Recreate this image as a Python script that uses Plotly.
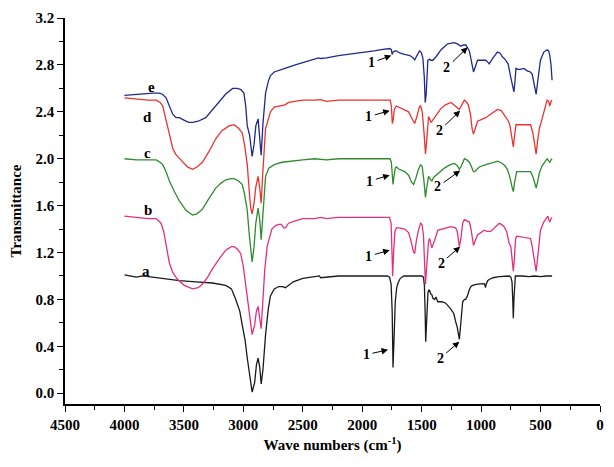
import plotly.graph_objects as go

# ---- data: (wavenumber cm^-1, transmittance) ----
spec_a = [(4000,1.01),(3900,0.99),(3845,1.0),(3700,0.98),(3622,0.97),(3538,0.96),(3400,0.95),(3260,0.94),(3148,0.92),(3100,0.89),(3064,0.80),(3030,0.70),(3009,0.58),(2985,0.45),(2967,0.30),(2945,0.14),(2926,0.01),(2905,0.09),(2890,0.24),(2876,0.30),(2862,0.22),(2850,0.08),(2835,0.20),(2813,0.50),(2790,0.72),(2772,0.83),(2740,0.89),(2702,0.91),(2670,0.91),(2646,0.90),(2620,0.92),(2580,0.95),(2500,0.98),(2400,0.99),(2360,1.0),(2350,0.985),(2300,0.99),(2200,1.0),(2000,1.0),(1850,1.0),(1790,1.0),(1770,0.99),(1757,0.93),(1748,0.70),(1741,0.22),(1733,0.45),(1722,0.78),(1710,0.90),(1699,0.94),(1680,0.98),(1650,1.0),(1550,1.0),(1500,1.0),(1485,0.99),(1477,0.92),(1471,0.70),(1466,0.44),(1461,0.55),(1455,0.75),(1447,0.86),(1440,0.88),(1434,0.88),(1425,0.85),(1414,0.84),(1405,0.81),(1392,0.80),(1380,0.82),(1365,0.78),(1330,0.78),(1300,0.77),(1256,0.72),(1230,0.68),(1214,0.61),(1200,0.56),(1190,0.50),(1183,0.46),(1175,0.55),(1165,0.70),(1155,0.78),(1140,0.80),(1130,0.80),(1115,0.83),(1099,0.885),(1085,0.91),(1072,0.92),(1030,0.93),(990,0.935),(974,0.935),(967,0.92),(963,0.90),(957,0.93),(945,0.96),(932,0.97),(900,0.985),(848,0.995),(800,1.0),(765,1.0),(750,0.99),(740,0.95),(734,0.80),(729,0.64),(724,0.80),(718,0.97),(712,1.0),(650,1.0),(600,0.995),(550,1.0),(500,0.995),(450,1.0),(403,1.0)]

spec_b = [(4000,1.51),(3900,1.50),(3800,1.49),(3733,1.49),(3692,1.45),(3670,1.38),(3650,1.28),(3622,1.11),(3594,1.03),(3570,0.99),(3553,0.97),(3497,0.92),(3427,0.89),(3380,0.90),(3344,0.93),(3300,0.99),(3260,1.06),(3200,1.15),(3148,1.22),(3100,1.25),(3078,1.25),(3050,1.23),(3022,1.19),(3000,1.08),(2981,0.92),(2960,0.75),(2940,0.58),(2926,0.50),(2905,0.58),(2890,0.70),(2876,0.74),(2862,0.65),(2850,0.55),(2838,0.75),(2820,1.05),(2800,1.25),(2786,1.30),(2760,1.40),(2730,1.43),(2702,1.44),(2680,1.44),(2660,1.41),(2646,1.41),(2620,1.45),(2564,1.47),(2500,1.49),(2400,1.49),(2350,1.50),(2300,1.49),(2200,1.50),(2000,1.50),(1850,1.50),(1770,1.50),(1757,1.45),(1750,1.25),(1744,1.00),(1736,1.20),(1725,1.38),(1713,1.41),(1690,1.41),(1643,1.40),(1610,1.37),(1590,1.30),(1570,1.21),(1559,1.19),(1545,1.30),(1525,1.40),(1509,1.45),(1498,1.44),(1485,1.35),(1475,1.10),(1468,0.93),(1460,1.05),(1450,1.22),(1442,1.30),(1434,1.32),(1414,1.24),(1400,1.28),(1392,1.30),(1365,1.39),(1300,1.41),(1256,1.42),(1214,1.41),(1200,1.38),(1190,1.30),(1183,1.25),(1170,1.32),(1155,1.45),(1141,1.48),(1120,1.47),(1099,1.46),(1085,1.40),(1070,1.28),(1064,1.26),(1050,1.30),(1030,1.35),(974,1.39),(950,1.38),(919,1.38),(880,1.42),(848,1.45),(830,1.44),(807,1.42),(785,1.38),(765,1.28),(750,1.25),(740,1.15),(729,1.04),(720,1.15),(710,1.32),(700,1.34),(650,1.33),(584,1.32),(570,1.25),(555,1.15),(537,1.04),(525,1.15),(510,1.30),(501,1.39),(473,1.46),(450,1.49),(439,1.51),(430,1.48),(422,1.46),(412,1.49),(403,1.50)]

spec_c = [(4000,2.00),(3900,1.99),(3800,1.99),(3733,1.99),(3700,1.97),(3678,1.95),(3650,1.89),(3622,1.81),(3580,1.72),(3538,1.64),(3483,1.56),(3427,1.52),(3390,1.53),(3344,1.57),(3290,1.66),(3232,1.75),(3190,1.79),(3148,1.82),(3100,1.83),(3078,1.83),(3040,1.81),(3009,1.78),(2990,1.70),(2967,1.56),(2950,1.35),(2938,1.20),(2926,1.12),(2910,1.25),(2895,1.45),(2876,1.58),(2862,1.48),(2850,1.31),(2838,1.50),(2825,1.75),(2813,1.85),(2786,1.92),(2740,1.95),(2675,1.97),(2600,1.98),(2500,1.99),(2400,2.00),(2350,1.995),(2300,1.99),(2200,2.00),(2000,2.00),(1850,2.00),(1765,2.00),(1755,1.97),(1748,1.85),(1741,1.78),(1733,1.85),(1722,1.92),(1713,1.93),(1690,1.91),(1643,1.89),(1610,1.86),(1585,1.80),(1568,1.78),(1550,1.83),(1530,1.90),(1509,1.95),(1495,1.93),(1480,1.80),(1468,1.67),(1458,1.75),(1448,1.84),(1442,1.85),(1425,1.82),(1414,1.81),(1400,1.84),(1379,1.86),(1340,1.89),(1309,1.92),(1260,1.95),(1225,1.96),(1200,1.94),(1183,1.91),(1165,1.94),(1141,2.00),(1120,1.99),(1099,1.97),(1080,1.93),(1065,1.89),(1053,1.89),(1030,1.92),(1016,1.93),(960,1.95),(905,1.97),(860,1.98),(821,1.96),(800,1.94),(779,1.91),(760,1.85),(740,1.76),(729,1.72),(718,1.80),(701,1.89),(650,1.89),(584,1.89),(562,1.84),(545,1.77),(537,1.75),(525,1.80),(510,1.88),(487,1.94),(460,1.98),(445,2.00),(430,1.98),(422,1.97),(412,1.99),(403,2.00)]

spec_d = [(4000,2.52),(3900,2.51),(3800,2.50),(3733,2.50),(3700,2.48),(3678,2.45),(3660,2.38),(3636,2.28),(3615,2.18),(3594,2.09),(3570,2.04),(3553,2.02),(3511,1.97),(3470,1.93),(3427,1.91),(3390,1.93),(3344,1.97),(3290,2.06),(3232,2.17),(3180,2.24),(3120,2.28),(3078,2.29),(3040,2.26),(3009,2.22),(2990,2.12),(2967,1.95),(2950,1.72),(2938,1.58),(2926,1.53),(2910,1.62),(2895,1.76),(2876,1.85),(2862,1.75),(2850,1.62),(2838,1.85),(2825,2.10),(2813,2.26),(2800,2.30),(2772,2.40),(2740,2.44),(2702,2.45),(2650,2.46),(2619,2.48),(2563,2.49),(2500,2.50),(2400,2.50),(2350,2.505),(2300,2.49),(2200,2.50),(2000,2.50),(1850,2.50),(1765,2.50),(1755,2.45),(1747,2.30),(1740,2.33),(1730,2.42),(1713,2.45),(1690,2.44),(1643,2.42),(1610,2.40),(1585,2.35),(1559,2.30),(1540,2.36),(1520,2.44),(1509,2.45),(1495,2.40),(1480,2.22),(1468,2.04),(1458,2.15),(1448,2.32),(1442,2.36),(1421,2.31),(1405,2.33),(1392,2.35),(1337,2.43),(1300,2.46),(1253,2.48),(1212,2.45),(1195,2.43),(1183,2.42),(1160,2.46),(1141,2.50),(1120,2.48),(1108,2.46),(1090,2.38),(1075,2.25),(1064,2.21),(1050,2.26),(1030,2.32),(961,2.35),(900,2.39),(863,2.42),(830,2.41),(794,2.36),(770,2.32),(757,2.28),(740,2.18),(729,2.10),(718,2.20),(707,2.29),(650,2.29),(584,2.29),(565,2.22),(548,2.10),(537,2.04),(525,2.15),(510,2.26),(495,2.31),(470,2.40),(445,2.50),(432,2.49),(422,2.45),(412,2.49),(403,2.50)]

spec_e = [(4000,2.54),(3950,2.545),(3900,2.55),(3817,2.56),(3760,2.56),(3706,2.56),(3680,2.55),(3650,2.52),(3620,2.45),(3594,2.38),(3566,2.35),(3538,2.35),(3500,2.33),(3460,2.31),(3427,2.31),(3380,2.32),(3316,2.35),(3260,2.42),(3204,2.49),(3150,2.55),(3090,2.60),(3051,2.60),(3020,2.59),(2995,2.56),(2980,2.45),(2967,2.28),(2947,2.20),(2936,2.10),(2926,2.02),(2910,2.12),(2895,2.28),(2876,2.34),(2862,2.20),(2850,2.03),(2835,2.30),(2813,2.56),(2790,2.66),(2772,2.71),(2740,2.74),(2702,2.75),(2650,2.77),(2563,2.80),(2500,2.82),(2424,2.84),(2368,2.86),(2350,2.855),(2300,2.86),(2200,2.88),(2117,2.89),(2000,2.91),(1900,2.92),(1839,2.93),(1768,2.94),(1755,2.93),(1749,2.89),(1740,2.91),(1725,2.92),(1713,2.92),(1680,2.90),(1643,2.89),(1600,2.88),(1570,2.86),(1559,2.84),(1540,2.88),(1518,2.92),(1505,2.91),(1490,2.86),(1478,2.70),(1470,2.48),(1462,2.55),(1455,2.78),(1448,2.84),(1435,2.85),(1426,2.84),(1406,2.84),(1379,2.87),(1337,2.93),(1281,2.98),(1225,2.99),(1200,2.98),(1170,2.96),(1150,2.97),(1128,2.97),(1099,2.92),(1085,2.85),(1070,2.76),(1064,2.74),(1050,2.78),(1030,2.84),(990,2.84),(961,2.84),(940,2.82),(932,2.81),(900,2.86),(863,2.91),(840,2.90),(821,2.87),(800,2.85),(773,2.81),(752,2.70),(735,2.62),(724,2.57),(715,2.66),(707,2.77),(680,2.76),(640,2.77),(612,2.75),(585,2.74),(570,2.72),(550,2.62),(537,2.55),(525,2.65),(510,2.78),(501,2.84),(473,2.91),(445,2.93),(432,2.92),(422,2.88),(412,2.80),(403,2.67)]

series_names = ["a", "b", "c", "d", "e"]
series_colors = ["#1a1a1a", "#E2307F", "#2E8B2E", "#EA3330", "#1F2A8C"]
series_data = [spec_a, spec_b, spec_c, spec_d, spec_e]

# curve letter labels (x, y)
letter_pos = [(3817, 1.045), (3803, 1.56), (3803, 2.045), (3803, 2.36), (3775, 2.615)]

# arrow annotations: (label, text_x, text_y, tip_x, tip_y)
arrows = [
    ("1", 1964, 0.33, 1783, 0.37), ("2", 1342, 0.30, 1183, 0.44),
    ("1", 1944, 1.17, 1769, 1.22), ("2", 1337, 1.11, 1176, 1.25),
    ("1", 1936, 1.81, 1769, 1.86), ("2", 1365, 1.76, 1176, 1.90),
    ("1", 1944, 2.36, 1769, 2.41), ("2", 1350, 2.24, 1176, 2.41),
    ("1", 1922, 2.82, 1755, 2.88), ("2", 1287, 2.78, 1114, 2.95),
]

FONT = "Liberation Serif"

fig = go.Figure()
for name, color, data in zip(series_names, series_colors, series_data):
    fig.add_trace(go.Scatter(
        x=[p[0] for p in data], y=[p[1] for p in data], mode="lines",
        name=name, line=dict(color=color, width=1.3), showlegend=False,
    ))

annotations = []
for name, (lx, ly) in zip(series_names, letter_pos):
    annotations.append(dict(x=lx, y=ly, xref="x", yref="y", text=name, showarrow=False,
                            font=dict(family=FONT, size=15, color="black", weight="bold")))
for lab, tx, ty, px, py in arrows:
    annotations.append(dict(x=px, y=py, ax=tx, ay=ty, xref="x", yref="y", axref="x", ayref="y",
                            text=lab, showarrow=True, arrowhead=2, arrowsize=1.3, arrowwidth=1,
                            arrowcolor="black", standoff=0, startstandoff=1,
                            font=dict(family=FONT, size=14, color="black", weight="bold")))

fig.update_layout(
    width=614, height=467,
    margin=dict(l=65, r=11, t=10, b=63),
    paper_bgcolor="white", plot_bgcolor="white",
    annotations=annotations,
    xaxis=dict(
        range=[4500, 0], autorange=False,
        tickmode="linear", tick0=0, dtick=500,
        ticks="outside", ticklen=6, tickwidth=1.2, tickcolor="black",
        minor=dict(dtick=250, ticks="outside", ticklen=4, tickcolor="black", tickwidth=1),
        showline=True, linecolor="black", linewidth=1.5, mirror=False,
        showgrid=False, zeroline=False, ticklabeloverflow="allow",
        tickfont=dict(family=FONT, size=15, color="black", weight="bold"),
        title=dict(text="Wave numbers (cm<sup>-1</sup>)", standoff=8,
                   font=dict(family=FONT, size=15, color="black", weight="bold")),
    ),
    yaxis=dict(
        range=[-0.092, 3.2005], autorange=False,
        tickmode="linear", tick0=0, dtick=0.4, tickformat=".1f",
        ticks="outside", ticklen=6, tickwidth=1.2, tickcolor="black",
        minor=dict(dtick=0.2, ticks="outside", ticklen=4, tickcolor="black", tickwidth=1),
        showline=True, linecolor="black", linewidth=1.5, mirror=False,
        showgrid=False, zeroline=False, ticklabeloverflow="allow",
        tickfont=dict(family=FONT, size=15, color="black", weight="bold"),
        title=dict(text="Transmittance", standoff=10,
                   font=dict(family=FONT, size=15, color="black", weight="bold")),
    ),
)

# remove the default 8px page margin so the figure fills the window exactly
fig.write_html("out.html", config={"displayModeBar": False},
               post_script="document.body.style.margin='0';")
